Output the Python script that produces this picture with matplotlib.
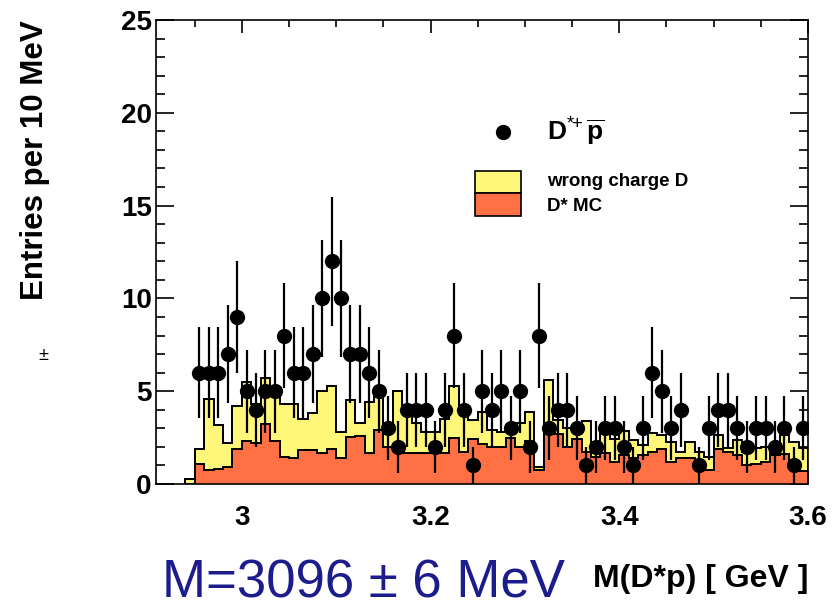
import numpy as np
import matplotlib
matplotlib.use("Agg")
import matplotlib.pyplot as plt
from matplotlib.patches import Rectangle
from matplotlib.ticker import MultipleLocator

plt.rcParams["font.family"] = ["Liberation Sans", "DejaVu Sans"]
plt.rcParams["mathtext.fontset"] = "custom"
plt.rcParams["mathtext.rm"] = "Liberation Sans"
plt.rcParams["mathtext.bf"] = "Liberation Sans:bold"

# 10 MeV bins from 2.94 to 3.60 GeV
bin_lo = 2.94
bin_width = 0.01
n_bins = 66

# D*+ pbar candidates (entries per bin)
data_counts = [
    0, 6, 6, 6, 7, 9, 5, 4, 5, 5, 8, 6, 6, 7, 10, 12, 10, 7, 7, 6,
    5, 3, 2, 4, 4, 4, 2, 4, 8, 4, 1, 5, 4, 5, 3, 5, 2, 8, 3, 4,
    4, 3, 1, 2, 3, 3, 2, 1, 3, 6, 5, 3, 4, 0, 1, 3, 4, 4, 3, 2,
    3, 3, 2, 3, 1, 3,
]

# stacked background: D* MC (bottom) and wrong charge D + D* MC (top)
dstar_mc = [
    0.0, 1.08, 0.75, 0.81, 0.93, 1.87, 2.33, 2.19, 3.23, 2.33, 1.47, 1.38, 1.83, 1.83, 1.65, 1.89, 1.38, 2.51, 2.6, 1.69,
    2.9, 2.0, 2.0, 1.65, 1.65, 1.65, 1.65, 1.65, 2.5, 1.75, 2.4, 2.15, 2.0, 2.0, 2.5, 2.0, 2.3, 0.75, 3.0, 2.7,
    2.0, 2.4, 1.74, 1.47, 1.65, 1.2, 1.56, 1.38, 1.56, 1.74, 1.87, 1.2, 1.38, 1.38, 1.2, 0.75, 1.87, 1.74, 1.56, 1.0,
    1.1, 1.2, 1.56, 1.6, 0.93, 0.72,
]
wrong_charge_total = [
    0.25, 1.9, 4.6, 3.2, 2.2, 4.2, 5.5, 4.3, 5.7, 5.2, 4.3, 4.3, 3.5, 3.8, 5.0, 5.3, 2.8, 4.5, 3.3, 4.4,
    4.7, 2.9, 5.0, 3.8, 3.3, 2.8, 2.8, 3.5, 5.3, 3.8, 3.45, 3.9, 2.9, 2.8, 3.0, 3.27, 3.9, 0.9, 5.6, 3.45,
    3.0, 3.1, 3.4, 2.2, 2.7, 2.45, 2.85, 2.37, 2.1, 2.76, 2.64, 2.28, 1.74, 2.28, 1.74, 1.47, 2.64, 1.92, 2.37, 1.74,
    1.92, 2.0, 1.65, 2.64, 2.28, 1.92,
]

yellow = "#fff77a"
orange = "#ff7045"

edges = bin_lo + bin_width * np.arange(n_bins + 1)
centers = 0.5 * (edges[:-1] + edges[1:])
counts = np.array(data_counts, dtype=float)

fig = plt.figure(figsize=(8.38, 6.08), dpi=100)
ax = fig.add_axes([156 / 838, 1 - 484 / 608, 652 / 838, 464 / 608])

ax.stairs(wrong_charge_total, edges, fill=True, facecolor=yellow,
          edgecolor="black", linewidth=1.3, zorder=2)
ax.stairs(wrong_charge_total, edges, color="black", linewidth=1.3, zorder=2.1)
ax.stairs(dstar_mc, edges, fill=True, facecolor=orange,
          edgecolor="black", linewidth=1.3, zorder=2.2)
ax.stairs(dstar_mc, edges, color="black", linewidth=1.3, zorder=2.3)

nz = counts > 0
ax.errorbar(centers[nz], counts[nz], yerr=np.sqrt(counts[nz]), fmt="o",
            color="black", ms=10, elinewidth=1.6, capsize=0, zorder=3)

ax.set_xlim(2.909, 3.6)
ax.set_ylim(0, 25)
ax.xaxis.set_major_locator(MultipleLocator(0.2))
ax.xaxis.set_minor_locator(MultipleLocator(0.05))
ax.yaxis.set_major_locator(MultipleLocator(5))
ax.yaxis.set_minor_locator(MultipleLocator(1))
ax.xaxis.set_major_formatter(plt.FuncFormatter(lambda v, p: f"{v:g}"))
ax.tick_params(axis="x", which="both", direction="in", top=True, bottom=True,
               labelsize=20, pad=15, width=1.2)
ax.tick_params(axis="x", which="major", length=9.5)
ax.tick_params(axis="x", which="minor", length=5)
ax.tick_params(axis="y", which="both", direction="in", left=True, right=True,
               labelsize=20, pad=3, width=1.2)
ax.tick_params(axis="y", which="major", length=13)
ax.tick_params(axis="y", which="minor", length=6.5)
for lab in ax.get_xticklabels() + ax.get_yticklabels():
    lab.set_fontweight("bold")
for sp in ax.spines.values():
    sp.set_linewidth(1.2)
    sp.set_zorder(4)

ax.set_ylabel("Entries per 10 MeV", fontsize=22.5, fontweight="bold", loc="top")
ax.yaxis.set_label_coords((50 - 156) / 652, 1.0)
ax.set_xlabel("M(D*p) [ GeV ]", fontsize=23, fontweight="bold", loc="right",
              labelpad=24)

# legend drawn by hand, ROOT style
ax.plot([0.532], [0.759], "o", color="black", ms=10, transform=ax.transAxes)
ax.text(0.600, 0.759, r"$\mathbf{D}^{*\!\!+}\overline{\mathbf{p}}$", fontsize=19,
        va="center", ha="left", transform=ax.transAxes)
ax.add_patch(Rectangle((0.489, 0.627), 0.071, 0.048, facecolor=yellow,
                       edgecolor="black", linewidth=1.2, transform=ax.transAxes))
ax.add_patch(Rectangle((0.489, 0.578), 0.071, 0.049, facecolor=orange,
                       edgecolor="black", linewidth=1.2, transform=ax.transAxes))
ax.text(0.600, 0.651, "wrong charge D", fontsize=13.5, fontweight="bold",
        va="center", ha="left", transform=ax.transAxes)
ax.text(0.600, 0.599, "D* MC", fontsize=13.5, fontweight="bold",
        va="center", ha="left", transform=ax.transAxes)

fig.text(43 / 838, 1 - 356 / 608, "±", fontsize=13, ha="center", va="center")
fig.text(162 / 838, 11 / 608, "M=3096 ± 6 MeV", fontsize=38,
         color="#1c1c8c", ha="left", va="baseline")

fig.savefig("out.png", dpi=100)
